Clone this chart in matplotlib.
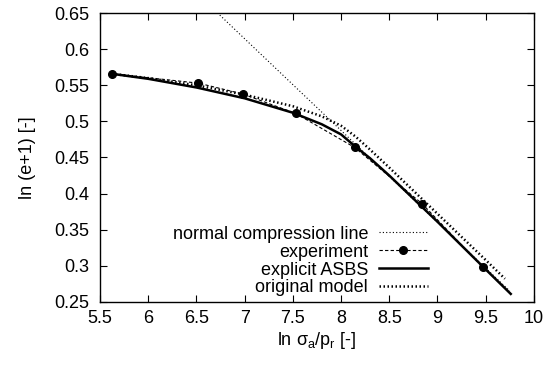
import matplotlib
matplotlib.use("Agg")
import matplotlib.pyplot as plt

plt.rcParams['font.family'] = ['Liberation Sans', 'DejaVu Sans']
plt.rcParams['mathtext.fontset'] = 'custom'
plt.rcParams['mathtext.rm'] = 'Liberation Sans'
plt.rcParams['mathtext.it'] = 'Liberation Sans'

# normal compression line
ncl_x = [6.5, 9.75]
ncl_y = [0.678, 0.265]

# experiment
exp_x = [5.62, 6.52, 6.98, 7.53, 8.14, 8.84, 9.47]
exp_y = [0.566, 0.553, 0.538, 0.511, 0.464, 0.386, 0.298]

# explicit ASBS
asbs_x = [5.62, 6.0, 6.5, 7.0, 7.5, 7.8, 8.0, 8.14, 8.3, 8.5, 9.0, 9.5, 9.76]
asbs_y = [0.566, 0.559, 0.547, 0.532, 0.512, 0.496, 0.482, 0.466, 0.449, 0.425, 0.361, 0.295, 0.261]

# original model
orig_x = [5.62, 6.0, 6.5, 7.0, 7.5, 7.8, 8.0, 8.15, 8.3, 8.5, 9.0, 9.5, 9.70]
orig_y = [0.566, 0.560, 0.550, 0.537, 0.521, 0.507, 0.494, 0.479, 0.461, 0.436, 0.372, 0.308, 0.282]

xticks = [5.5, 6, 6.5, 7, 7.5, 8, 8.5, 9, 9.5, 10]
yticks = [0.25, 0.3, 0.35, 0.4, 0.45, 0.5, 0.55, 0.6, 0.65]

fig = plt.figure(figsize=(5.47, 3.65), dpi=100)
ax = fig.add_axes([0.183, 0.173, 0.793, 0.791])

ax.plot(ncl_x, ncl_y, color='black', lw=0.8, ls=(0, (1, 2)), label='normal compression line')
ax.plot(exp_x, exp_y, color='black', lw=0.8, ls=(0, (3, 2)), marker='o', ms=5.5,
        label='experiment')
ax.plot(asbs_x, asbs_y, color='black', lw=1.8, ls='-', label='explicit ASBS')
ax.plot(orig_x, orig_y, color='black', lw=1.8, ls=(0, (0.6, 1.0)), label='original model')

ax.set_xlim(5.5, 10)
ax.set_ylim(0.25, 0.65)
ax.set_xticks(xticks)
ax.set_xticklabels(['5.5', '6', '6.5', '7', '7.5', '8', '8.5', '9', '9.5', '10'])
ax.set_yticks(yticks)
ax.set_yticklabels(['0.25', '0.3', '0.35', '0.4', '0.45', '0.5', '0.55', '0.6', '0.65'])
ax.tick_params(direction='in', top=True, right=True, length=5, width=0.8, labelsize=13, pad=6)
ax.tick_params(axis='y', pad=8)
for s in ax.spines.values():
    s.set_linewidth(1.0)

ax.set_xlabel(r'ln $\sigma_{\mathrm{a}}/\mathrm{p}_{\mathrm{r}}$ [-]', fontsize=13, labelpad=2)
ax.set_ylabel('ln (e+1) [-]', fontsize=13, labelpad=13)

leg = ax.legend(loc='lower right', bbox_to_anchor=(0.768, 0.0), markerfirst=False,
                frameon=False, fontsize=13, handlelength=2.7, handletextpad=0.6,
                labelspacing=0.05, borderaxespad=0.3, borderpad=0.0)

fig.savefig('out.png', dpi=100)
